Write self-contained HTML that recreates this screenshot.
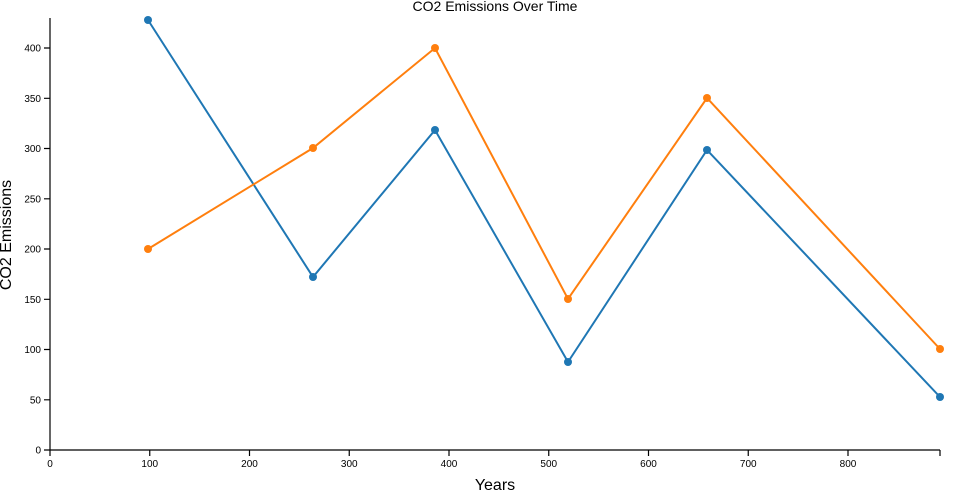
<!DOCTYPE html>
<html><head><style>body{margin:0;background:#fff}svg{display:block;font-family:"Liberation Sans",sans-serif}</style></head><body>
<svg width="960" height="500" xmlns="http://www.w3.org/2000/svg">
<text x="495" y="11" text-anchor="middle" font-size="14" fill="#000">CO2 Emissions Over Time</text>
<g stroke="#000" stroke-width="1.2" fill="none">
<path d="M50,18V450H940"/>
<path d="M44,450H50M44,399.8H50M44,349.5H50M44,299.3H50M44,249H50M44,198.8H50M44,148.5H50M44,98.3H50M44,48H50"/>
<path d="M50,450V456M149.75,450V456M249.5,450V456M349.25,450V456M449,450V456M548.75,450V456M648.5,450V456M748.25,450V456M848,450V456M940,450V456"/>
</g>
<g font-size="10" fill="#000" text-anchor="end">
<text x="41" y="453.5">0</text><text x="41" y="403.3">50</text><text x="41" y="353">100</text><text x="41" y="302.8">150</text><text x="41" y="252.5">200</text><text x="41" y="202.3">250</text><text x="41" y="152">300</text><text x="41" y="101.8">350</text><text x="41" y="51.5">400</text>
</g>
<g font-size="10" fill="#000" text-anchor="middle">
<text x="50" y="467">0</text><text x="149.75" y="467">100</text><text x="249.5" y="467">200</text><text x="349.25" y="467">300</text><text x="449" y="467">400</text><text x="548.75" y="467">500</text><text x="648.5" y="467">600</text><text x="748.25" y="467">700</text><text x="848" y="467">800</text>
</g>
<text x="495" y="490" text-anchor="middle" font-size="16">Years</text>
<text transform="translate(11,235) rotate(-90)" text-anchor="middle" font-size="16">CO2 Emissions</text>
<polyline fill="none" stroke="#1f77b4" stroke-width="2" points="148,20 313,277 435,130 568,362 707,150 940,397"/>
<polyline fill="none" stroke="#ff7f0e" stroke-width="2" points="148,249 313,148 435,48 568,299 707,98 940,349"/>
<g fill="#1f77b4"><circle cx="148" cy="20" r="4"/><circle cx="313" cy="277" r="4"/><circle cx="435" cy="130" r="4"/><circle cx="568" cy="362" r="4"/><circle cx="707" cy="150" r="4"/><circle cx="940" cy="397" r="4"/></g>
<g fill="#ff7f0e"><circle cx="148" cy="249" r="4"/><circle cx="313" cy="148" r="4"/><circle cx="435" cy="48" r="4"/><circle cx="568" cy="299" r="4"/><circle cx="707" cy="98" r="4"/><circle cx="940" cy="349" r="4"/></g>
</svg>
</body></html>
